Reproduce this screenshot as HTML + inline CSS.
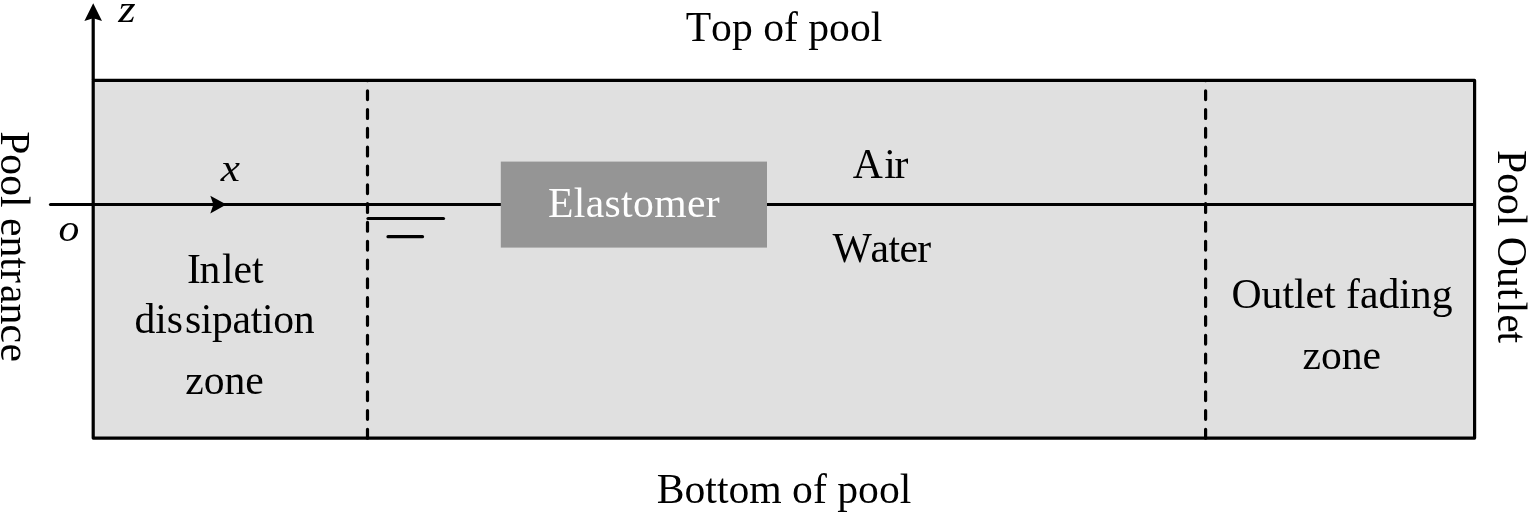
<!DOCTYPE html>
<html>
<head>
<meta charset="utf-8">
<title>Pool diagram</title>
<style>
html,body{margin:0;padding:0;background:#fff;}
body{width:1528px;height:512px;overflow:hidden;}
svg{display:block;will-change:transform;}
text{font-family:"Liberation Serif","Times New Roman",serif;font-size:41.67px;fill:#000;font-kerning:none;}
.it{font-style:italic;}
</style>
</head>
<body>
<svg width="1528" height="512" viewBox="0 0 1528 512">
  <rect x="0" y="0" width="1528" height="512" fill="#ffffff"/>
  <!-- pool -->
  <rect x="93.2" y="80.4" width="1381.4" height="357.7" fill="#e0e0e0" stroke="#000" stroke-width="3.2" stroke-linejoin="round"/>
  <!-- z axis -->
  <line x1="93.2" y1="80" x2="93.2" y2="18" stroke="#000" stroke-width="3.2"/>
  <path d="M93.2 3.3 L102 20.9 L93.2 18.2 L84.4 20.9 Z" fill="#000"/>
  <!-- water line -->
  <line x1="50.5" y1="204.5" x2="501" y2="204.5" stroke="#000" stroke-width="3.2" stroke-linecap="round"/>
  <line x1="767" y1="204.5" x2="1474.6" y2="204.5" stroke="#000" stroke-width="3.2"/>
  <path d="M226.4 204.6 L210.3 195.8 L213.4 204.6 L210.3 213.4 Z" fill="#000"/>
  <!-- dashed -->
  <line x1="367.5" y1="438.15" x2="367.5" y2="80.5" stroke="#000" stroke-width="3.2" stroke-linecap="round" stroke-dasharray="8.8 10.01"/>
  <line x1="1205.6" y1="438.15" x2="1205.6" y2="80.5" stroke="#000" stroke-width="3.2" stroke-linecap="round" stroke-dasharray="8.8 10.01"/>
  <!-- water symbol -->
  <line x1="368" y1="218.5" x2="443.5" y2="218.5" stroke="#000" stroke-width="3.2" stroke-linecap="round"/>
  <line x1="388" y1="236.7" x2="422.5" y2="236.7" stroke="#000" stroke-width="3.2" stroke-linecap="round"/>
  <!-- elastomer -->
  <rect x="500.8" y="161.6" width="266.2" height="86" fill="#959595"/>
  <text x="634" y="216.7" text-anchor="middle" style="fill:#fff;letter-spacing:0.34px">Elastomer</text>
  <!-- labels -->
  <text x="784" y="41.2" text-anchor="middle">Top of pool</text>
  <text x="784" y="503.2" text-anchor="middle">Bottom of pool</text>
  <text x="880.5" y="177.8" text-anchor="middle">A<tspan dx="1.5">i</tspan><tspan dx="-1.3">r</tspan></text>
  <text x="832.4" y="262.4">W<tspan x="870.6" style="letter-spacing:-0.6px">ater</tspan></text>
  <text x="187" y="283">I<tspan dx="-1.5">n</tspan><tspan dx="1.7">let</tspan></text>
  <text y="333"><tspan x="134.4">dis</tspan><tspan x="184.9" style="letter-spacing:-0.3px">sipation</tspan></text>
  <text x="224.5" y="394.4" text-anchor="middle">zone</text>
  <text x="1342" y="308" text-anchor="middle">Outlet fading</text>
  <text x="1341.8" y="369" text-anchor="middle">zone</text>
  <text class="it" transform="translate(118.2 21.6) scale(1.07 0.9)">z</text>
  <text class="it" transform="translate(220.8 180.6) scale(1.04 0.9)">x</text>
  <text class="it" transform="translate(58.4 240.6) scale(1 0.9)">o</text>
  <text transform="translate(1498 150) rotate(90)" x="0" y="0">Pool Out<tspan dx="2.5">l</tspan><tspan dx="0.8">e</tspan><tspan dx="-1.3">t</tspan></text>
  <text transform="translate(1 131.2) rotate(90)" x="0" y="0">Pool entr<tspan dx="2.3">anc</tspan><tspan dx="0.5">e</tspan></text>
</svg>
</body>
</html>
